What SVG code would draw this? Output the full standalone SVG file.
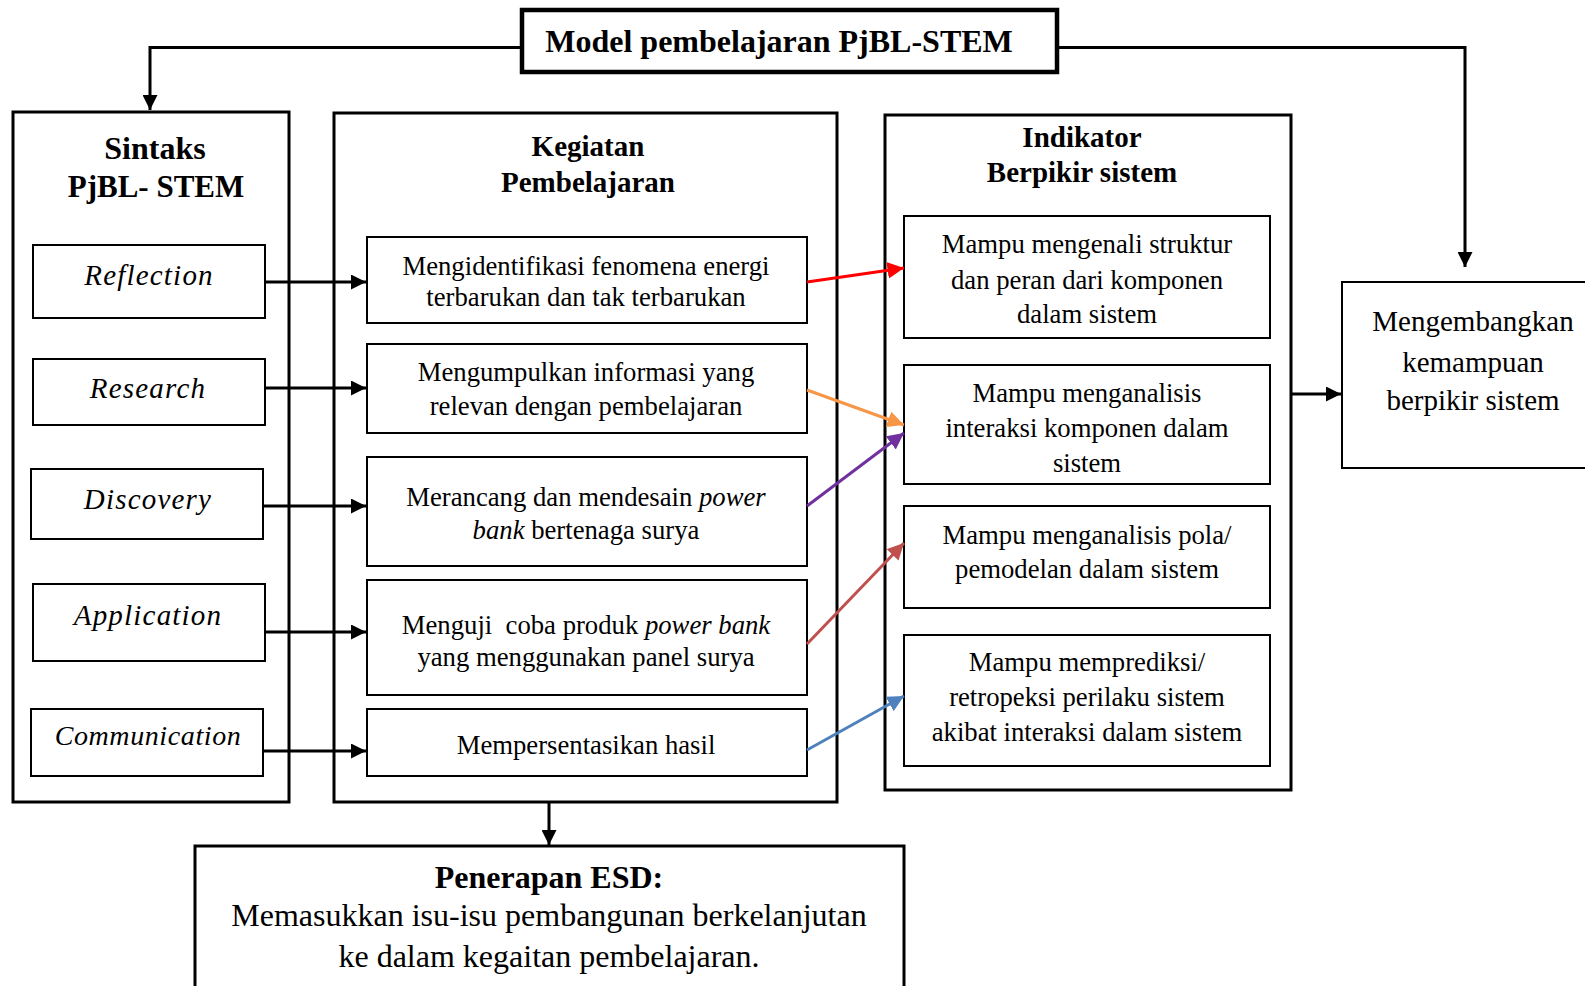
<svg xmlns="http://www.w3.org/2000/svg" width="1585" height="986" viewBox="0 0 1585 986">
<style>
text{font-family:"Liberation Serif","Times New Roman",serif;fill:#000;text-anchor:middle}
.b{font-weight:bold}
.i{font-style:italic}
.outer{fill:#fff;stroke:#000;stroke-width:3}
.inner{fill:#fff;stroke:#000;stroke-width:2}
.conn{fill:none;stroke:#000;stroke-width:3}
.t24{font-size:26.7px}
.t27{font-size:29px}
.it{font-size:29px;letter-spacing:1.2px}
</style>
<defs>
<marker id="ab" viewBox="0 0 10 10" refX="10" refY="5" markerWidth="5" markerHeight="5" orient="auto" markerUnits="strokeWidth"><path d="M0,0L10,5L0,10z" fill="#000"/></marker>
<marker id="ar" viewBox="0 0 10 10" refX="10" refY="5" markerWidth="5.5" markerHeight="5.5" orient="auto" markerUnits="strokeWidth"><path d="M0,0L10,5L0,10z" fill="#FF0000"/></marker>
<marker id="ao" viewBox="0 0 10 10" refX="10" refY="5" markerWidth="5.5" markerHeight="5.5" orient="auto" markerUnits="strokeWidth"><path d="M0,0L10,5L0,10z" fill="#F79646"/></marker>
<marker id="ap" viewBox="0 0 10 10" refX="10" refY="5" markerWidth="5.5" markerHeight="5.5" orient="auto" markerUnits="strokeWidth"><path d="M0,0L10,5L0,10z" fill="#7030A0"/></marker>
<marker id="ad" viewBox="0 0 10 10" refX="10" refY="5" markerWidth="5.5" markerHeight="5.5" orient="auto" markerUnits="strokeWidth"><path d="M0,0L10,5L0,10z" fill="#C0504D"/></marker>
<marker id="al" viewBox="0 0 10 10" refX="10" refY="5" markerWidth="5.5" markerHeight="5.5" orient="auto" markerUnits="strokeWidth"><path d="M0,0L10,5L0,10z" fill="#4F81BD"/></marker>
</defs>
<rect width="1585" height="986" fill="#fff"/>

<g id="sintaks">
<rect class="outer" x="13" y="112" width="276" height="690"/>
<text class="b" font-size="32" x="155" y="159">Sintaks</text>
<text class="b" font-size="31" x="156" y="197">PjBL- STEM</text>
</g>
<g id="reflection"><rect class="inner" x="33" y="245" width="232" height="73"/><text class="i it" x="149" y="285">Reflection</text></g>
<g id="research"><rect class="inner" x="33" y="359" width="232" height="66"/><text class="i it" x="148" y="398">Research</text></g>
<g id="discovery"><rect class="inner" x="31" y="469" width="232" height="70"/><text class="i it" x="148" y="509">Discovery</text></g>
<g id="application"><rect class="inner" x="33" y="584" width="232" height="77"/><text class="i it" x="148" y="625">Application</text></g>
<g id="communication"><rect class="inner" x="31" y="709" width="232" height="67"/><text class="i" font-size="28" x="148" y="745" letter-spacing="0.6">Communication</text></g>

<g id="kegiatan">
<rect class="outer" x="334" y="113" width="503" height="689"/>
<text class="b t27" x="588" y="156">Kegiatan</text>
<text class="b t27" x="588" y="192">Pembelajaran</text>
</g>
<g id="keg1"><rect class="inner" x="367" y="237" width="440" height="86"/><text class="t24" x="586" y="275">Mengidentifikasi fenomena energi</text><text class="t24" x="586" y="306">terbarukan dan tak terbarukan</text></g>
<g id="keg2"><rect class="inner" x="367" y="344" width="440" height="89"/><text class="t24" x="586" y="381">Mengumpulkan informasi yang</text><text class="t24" x="586" y="415">relevan dengan pembelajaran</text></g>
<g id="keg3"><rect class="inner" x="367" y="457" width="440" height="109"/><text class="t24" x="586" y="506">Merancang dan mendesain <tspan class="i">power</tspan></text><text class="t24" x="586" y="539"><tspan class="i">bank</tspan> bertenaga surya</text></g>
<g id="keg4"><rect class="inner" x="367" y="580" width="440" height="115"/><text class="t24" x="586" y="634" xml:space="preserve">Menguji  coba produk <tspan class="i">power bank</tspan></text><text class="t24" x="586" y="666">yang menggunakan panel surya</text></g>
<g id="keg5"><rect class="inner" x="367" y="709" width="440" height="67"/><text class="t24" x="586" y="754">Mempersentasikan hasil</text></g>

<g id="indikator">
<rect class="outer" x="885" y="115" width="406" height="675"/>
<text class="b t27" x="1082" y="147">Indikator</text>
<text class="b t27" x="1082" y="182">Berpikir sistem</text>
</g>
<g id="ind1"><rect class="inner" x="904" y="216" width="366" height="122"/><text class="t24" x="1087" y="253">Mampu mengenali struktur</text><text class="t24" x="1087" y="289">dan peran dari komponen</text><text class="t24" x="1087" y="323">dalam sistem</text></g>
<g id="ind2"><rect class="inner" x="904" y="365" width="366" height="119"/><text class="t24" x="1087" y="402">Mampu menganalisis</text><text class="t24" x="1087" y="437">interaksi komponen dalam</text><text class="t24" x="1087" y="472">sistem</text></g>
<g id="ind3"><rect class="inner" x="904" y="506" width="366" height="102"/><text class="t24" x="1087" y="544">Mampu menganalisis pola/</text><text class="t24" x="1087" y="578">pemodelan dalam sistem</text></g>
<g id="ind4"><rect class="inner" x="904" y="635" width="366" height="131"/><text class="t24" x="1087" y="671">Mampu memprediksi/</text><text class="t24" x="1087" y="706">retropeksi perilaku sistem</text><text class="t24" x="1087" y="741">akibat interaksi dalam sistem</text></g>

<g id="model"><rect x="522" y="10" width="535" height="62" fill="#fff" stroke="#000" stroke-width="4.5"/><text class="b" font-size="32" x="779" y="52">Model pembelajaran PjBL-STEM</text></g>

<g id="mengembangkan"><rect class="inner" x="1342" y="282" width="250" height="186"/><text class="t27" x="1473" y="331">Mengembangkan</text><text class="t27" x="1473" y="372">kemampuan</text><text class="t27" x="1473" y="410">berpikir sistem</text></g>

<g id="esd"><rect class="outer" x="195" y="846" width="709" height="150"/><text class="b" font-size="32" x="549" y="888">Penerapan ESD:</text><text font-size="32" x="549" y="926">Memasukkan isu-isu pembangunan berkelanjutan</text><text font-size="32" x="549" y="967">ke dalam kegaitan pembelajaran.</text></g>

<g id="connectors">
<path class="conn" d="M522,47.5H150V110" marker-end="url(#ab)"/>
<path class="conn" d="M1057,47.5H1465V267" marker-end="url(#ab)"/>
<path class="conn" d="M265,282H366" marker-end="url(#ab)"/>
<path class="conn" d="M265,388H366" marker-end="url(#ab)"/>
<path class="conn" d="M263,506H366" marker-end="url(#ab)"/>
<path class="conn" d="M265,632H366" marker-end="url(#ab)"/>
<path class="conn" d="M263,751H366" marker-end="url(#ab)"/>
<path class="conn" d="M1291,394H1341" marker-end="url(#ab)"/>
<path class="conn" d="M549,802V845" marker-end="url(#ab)"/>
<path fill="none" stroke="#FF0000" stroke-width="3" d="M807,282L904,268" marker-end="url(#ar)"/>
<path fill="none" stroke="#F79646" stroke-width="3" d="M807,390L904,425" marker-end="url(#ao)"/>
<path fill="none" stroke="#7030A0" stroke-width="3" d="M807,506L904,433" marker-end="url(#ap)"/>
<path fill="none" stroke="#C0504D" stroke-width="3" d="M807,644L904,543" marker-end="url(#ad)"/>
<path fill="none" stroke="#4F81BD" stroke-width="3" d="M807,750L904,696" marker-end="url(#al)"/>
</g>
</svg>
